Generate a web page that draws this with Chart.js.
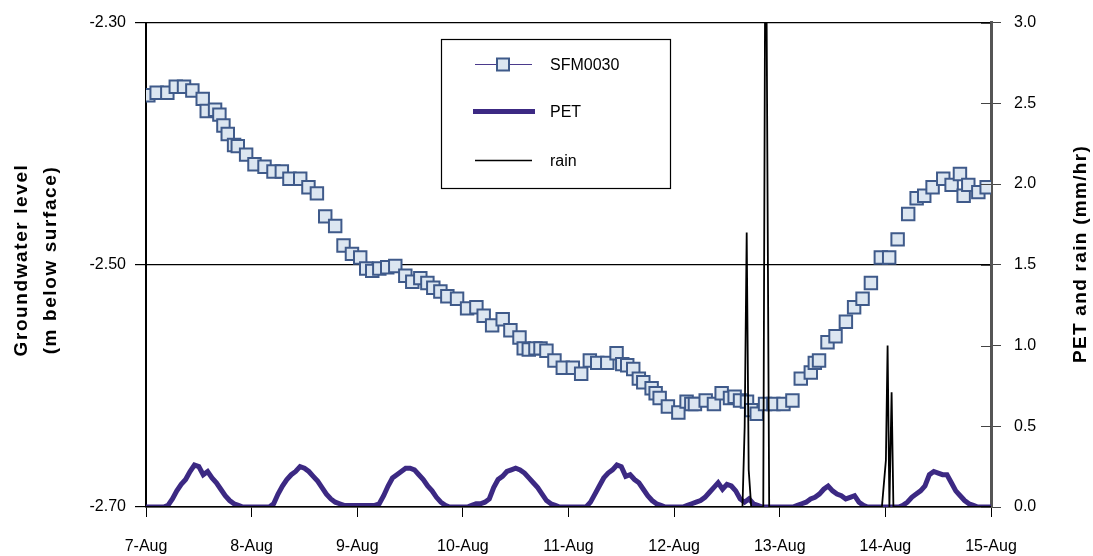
<!DOCTYPE html>
<html><head><meta charset="utf-8">
<script src="https://cdn.jsdelivr.net/npm/chart.js@4/dist/chart.umd.min.js"></script>
<style>html,body{margin:0;padding:0;background:#fff;} #wrap{width:1093px;height:556px;position:relative;}</style>
</head><body><div id="wrap"><canvas id="c" width="1093" height="556"></canvas></div>
<script>
// ---- data (time in days since 7-Aug 00:00) ----
const xTickValues = [0, 1, 2, 3, 4, 5, 6, 7, 8];
const xTickLabels = ['7-Aug', '8-Aug', '9-Aug', '10-Aug', '11-Aug', '12-Aug', '13-Aug', '14-Aug', '15-Aug'];
const gwTickValues = [-2.70, -2.50, -2.30];
const rateTickValues = [0, 0.5, 1.0, 1.5, 2.0, 2.5, 3.0];

const gwTimes = [0.022,0.101,0.202,0.282,0.360,0.439,0.537,0.575,0.654,0.695,0.733,0.774,0.834,0.869,0.948,
  1.027,1.122,1.207,1.286,1.358,1.460,1.538,1.618,1.697,1.791,1.870,1.950,
  2.028,2.085,2.142,2.209,2.284,2.360,2.455,2.521,2.597,2.664,2.720,2.787,2.853,2.945,
  3.040,3.128,3.197,3.277,3.377,3.450,3.536,3.576,3.624,3.687,3.735,3.791,3.867,3.946,
  4.041,4.120,4.202,4.272,4.367,4.455,4.509,4.556,4.613,4.666,4.708,4.787,4.825,4.863,4.941,
  5.040,5.118,5.163,5.197,5.299,5.377,5.450,5.529,5.573,5.624,5.690,5.730,5.782,5.861,5.940,
  6.035,6.120,6.199,6.294,6.332,6.372,6.452,6.528,6.626,6.704,6.784,6.863,6.957,
  7.036,7.116,7.216,7.296,7.368,7.447,7.548,7.627,7.706,7.741,7.785,7.880,7.959];
const gwLevels = [-2.360,-2.358,-2.358,-2.353,-2.353,-2.356,-2.363,-2.373,-2.372,-2.376,-2.385,-2.392,-2.401,-2.402,-2.409,
  -2.417,-2.419,-2.423,-2.423,-2.429,-2.429,-2.436,-2.441,-2.460,-2.468,-2.484,-2.491,
  -2.494,-2.503,-2.505,-2.503,-2.502,-2.501,-2.509,-2.514,-2.511,-2.515,-2.519,-2.522,-2.526,-2.528,
  -2.536,-2.535,-2.542,-2.550,-2.545,-2.554,-2.560,-2.569,-2.570,-2.569,-2.569,-2.571,-2.579,-2.585,
  -2.585,-2.590,-2.579,-2.581,-2.581,-2.573,-2.582,-2.583,-2.586,-2.594,-2.597,-2.602,-2.606,-2.610,-2.617,
  -2.622,-2.613,-2.615,-2.615,-2.612,-2.615,-2.606,-2.610,-2.609,-2.612,-2.613,-2.620,-2.623,-2.615,-2.615,
  -2.615,-2.612,-2.594,-2.589,-2.581,-2.579,-2.564,-2.559,-2.547,-2.535,-2.528,-2.515,-2.494,
  -2.494,-2.479,-2.458,-2.445,-2.443,-2.436,-2.429,-2.434,-2.425,-2.443,-2.434,-2.440,-2.436];

// hourly PET (mm/hr) starting 7-Aug 00:00
const petHourly = [
  0,0,0,0,0,0.01,0.05,0.10,0.14,0.17,0.22,0.26,0.25,0.20,0.22,0.18,0.15,0.11,0.07,0.04,0.02,0.01,0,0,
  0,0,0,0,0,0.02,0.08,0.13,0.17,0.20,0.22,0.25,0.24,0.22,0.19,0.16,0.12,0.08,0.05,0.03,0.02,0.01,0.01,0.01,
  0.01,0.01,0.01,0.01,0.01,0.02,0.07,0.13,0.18,0.20,0.22,0.24,0.24,0.23,0.20,0.17,0.13,0.10,0.06,0.03,0.01,0,0,0,
  0,0,0.01,0.02,0.02,0.03,0.05,0.12,0.17,0.19,0.22,0.23,0.24,0.23,0.21,0.18,0.15,0.12,0.08,0.04,0.02,0.01,0,0,
  0,0,0,0,0,0.03,0.08,0.13,0.18,0.21,0.23,0.26,0.25,0.19,0.20,0.17,0.15,0.11,0.07,0.04,0.02,0.01,0,0,
  0,0,0,0.01,0.02,0.03,0.04,0.06,0.09,0.12,0.15,0.11,0.14,0.13,0.10,0.05,0.03,0.05,0.02,0.01,0,0,0,0,
  0,0,0,0,0.01,0.02,0.03,0.05,0.06,0.08,0.11,0.13,0.10,0.08,0.07,0.05,0.06,0.07,0.03,0.01,0,0,0,0,
  0,0,0,0,0.01,0.03,0.06,0.08,0.10,0.13,0.20,0.22,0.21,0.20,0.20,0.15,0.10,0.07,0.04,0.02,0.01,0,0,0,
  0];

const rainTimes  = [0, 5.647, 5.668, 5.687, 5.706, 5.730, 5.844, 5.863, 5.872, 5.900, 6.967, 7.005, 7.021, 7.038, 7.059, 7.076, 8];
const rainValues = [0, 0,     0.5,   1.7,   0.23,  0,     0,     3.5,   3.5,   0,     0,     0.29,  1.0,   0,     0.71,  0,     0];

const seriesNames = ['SFM0030', 'PET', 'rain'];

// ---- styles ----
const FONT = "'Liberation Sans', Arial, Helvetica, sans-serif";
const GW_LINE = '#4B3A8C', GW_EDGE = '#3F5A8A', GW_FILL = '#DCE6F1';
const PET_COLOR = '#3C2983';
const RAIN_COLOR = '#000000';

const gwData = gwTimes.map((t, i) => ({x: t, y: gwLevels[i]}));
const petData = petHourly.map((v, i) => ({x: i / 24, y: v}));
const rainData = rainTimes.map((t, i) => ({x: t, y: rainValues[i]}));

function drawRotText(ctx, text, x, y, font, spacing) {
  ctx.save();
  ctx.translate(x, y);
  ctx.rotate(-Math.PI / 2);
  ctx.font = font;
  ctx.fillStyle = '#000';
  ctx.textAlign = 'center';
  ctx.textBaseline = 'middle';
  try { ctx.letterSpacing = spacing; } catch (e) {}
  ctx.fillText(text, 0, 0);
  ctx.restore();
}

const decoPlugin = {
  id: 'deco',
  afterDraw(chart) {
    const ctx = chart.ctx;
    const ca = chart.chartArea;
    // inner half of right-axis tick marks
    const yr = chart.scales.yRate;
    ctx.save();
    ctx.strokeStyle = '#444';
    ctx.lineWidth = 1;
    rateTickValues.forEach(v => {
      const py = Math.round(yr.getPixelForValue(v)) + 0.5;
      ctx.beginPath();
      ctx.moveTo(ca.right - 10, py);
      ctx.lineTo(ca.right, py);
      ctx.stroke();
    });
    ctx.restore();

    // axis titles
    const tf = "bold 19px " + FONT;
    drawRotText(ctx, 'Groundwater level', 22, 260, tf, '1.6px');
    drawRotText(ctx, '(m below surface)', 51, 260, tf, '1.6px');
    drawRotText(ctx, 'PET and rain (mm/hr)', 1081, 254, tf, '1.3px');

    // legend
    const bx = 441, by = 39, bw = 229, bh = 149;
    ctx.save();
    ctx.fillStyle = '#fff';
    ctx.fillRect(bx, by, bw, bh);
    ctx.strokeStyle = '#000';
    ctx.lineWidth = 1.2;
    ctx.strokeRect(bx + 0.5, by + 0.5, bw, bh);
    const rows = [64.5, 111.5, 160.5];
    // SFM0030
    ctx.strokeStyle = GW_LINE; ctx.lineWidth = 1.2;
    ctx.beginPath(); ctx.moveTo(475, rows[0]); ctx.lineTo(532, rows[0]); ctx.stroke();
    ctx.fillStyle = GW_FILL; ctx.fillRect(497, rows[0] - 6, 12, 12);
    ctx.strokeStyle = GW_EDGE; ctx.lineWidth = 2; ctx.strokeRect(497, rows[0] - 6, 12, 12);
    // PET
    ctx.strokeStyle = PET_COLOR; ctx.lineWidth = 5;
    ctx.beginPath(); ctx.moveTo(473, rows[1]); ctx.lineTo(535, rows[1]); ctx.stroke();
    // rain
    ctx.strokeStyle = RAIN_COLOR; ctx.lineWidth = 1.5;
    ctx.beginPath(); ctx.moveTo(475, rows[2]); ctx.lineTo(532, rows[2]); ctx.stroke();
    ctx.fillStyle = '#000';
    ctx.font = "16px " + FONT;
    ctx.textAlign = 'left';
    ctx.textBaseline = 'middle';
    seriesNames.forEach((n, i) => ctx.fillText(n, 550, rows[i] + 1));
    ctx.restore();
  }
};

Chart.defaults.font.family = FONT;
Chart.defaults.font.size = 16;
Chart.defaults.color = '#000';

new Chart(document.getElementById('c'), {
  type: 'line',
  data: {
    datasets: [
      { label: seriesNames[2], data: rainData, yAxisID: 'yRate', order: 0,
        borderColor: RAIN_COLOR, borderWidth: 1.8, pointRadius: 0, tension: 0 },
      { label: seriesNames[1], data: petData, yAxisID: 'yRate', order: 1,
        borderColor: PET_COLOR, borderWidth: 5, pointRadius: 0, tension: 0 },
      { label: seriesNames[0], data: gwData, yAxisID: 'yGw', order: 2, showLine: false,
        borderColor: GW_LINE, borderWidth: 1, pointStyle: 'rect', pointRadius: 8.8,
        pointBackgroundColor: GW_FILL, pointBorderColor: GW_EDGE, pointBorderWidth: 2, tension: 0 }
    ]
  },
  options: {
    responsive: false,
    devicePixelRatio: 1,
    animation: false,
    events: [],
    layout: { padding: { top: 21, left: 0, right: 0, bottom: 0 } },
    plugins: { legend: { display: false }, tooltip: { enabled: false }, title: { display: false } },
    scales: {
      x: {
        type: 'linear', min: 0, max: 8,
        afterFit(s) { s.height = 49; },
        afterBuildTicks(s) { s.ticks = xTickValues.map(v => ({value: v})); },
        ticks: { padding: 20, font: { size: 16 }, callback: (v) => xTickLabels[xTickValues.indexOf(v)] ?? '' , maxRotation: 0, autoSkip: false },
        grid: { drawOnChartArea: false, tickLength: 10, color: '#000', lineWidth: 1 },
        border: { color: '#000', width: 1.5 }
      },
      yGw: {
        type: 'linear', position: 'left', min: -2.70, max: -2.30,
        afterFit(s) { s.width = 146; },
        afterBuildTicks(s) { s.ticks = gwTickValues.map(v => ({value: v})); },
        ticks: { padding: 9, font: { size: 16 }, callback: (v) => v.toFixed(2) },
        grid: { drawOnChartArea: true, tickLength: 11, color: '#000', lineWidth: 1.2 },
        border: { color: '#000', width: 2 }
      },
      yRate: {
        type: 'linear', position: 'right', min: 0, max: 3,
        afterFit(s) { s.width = 102; },
        afterBuildTicks(s) { s.ticks = rateTickValues.map(v => ({value: v})); },
        ticks: { padding: 13, font: { size: 16 }, callback: (v) => v.toFixed(1) },
        grid: { drawOnChartArea: false, tickLength: 10, color: '#444', lineWidth: 1 },
        border: { color: '#555', width: 3 }
      }
    }
  },
  plugins: [decoPlugin]
});
</script>
</body></html>
